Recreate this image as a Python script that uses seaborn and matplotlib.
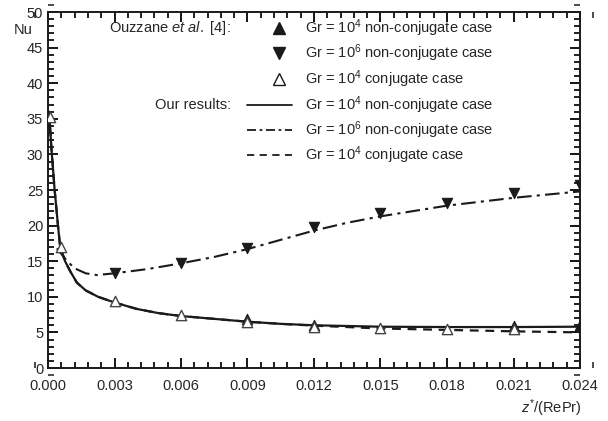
import matplotlib
matplotlib.use("Agg")
import matplotlib.pyplot as plt
import seaborn as sns
from matplotlib.ticker import MultipleLocator, FormatStrFormatter, FixedLocator

# ---- data ----
# reference markers (Ouzzane et al.)
ref_up_filled_x = [0.009, 0.012, 0.021, 0.024]
ref_up_filled_y = [6.9, 6.1, 5.9, 6.0]

ref_down_x = [0.003, 0.006, 0.009, 0.012, 0.015, 0.018, 0.021, 0.024]
ref_down_y = [13.4, 14.7, 16.8, 19.8, 21.7, 23.2, 24.6, 25.7]

ref_open_x = [0.0001, 0.0006, 0.003, 0.006, 0.009, 0.012, 0.015, 0.018, 0.021]
ref_open_y = [35.3, 17.0, 9.4, 7.5, 6.5, 5.8, 5.6, 5.5, 5.5]

# our results curves
solid_x = [0.00005, 0.00015, 0.0003, 0.00045, 0.00055, 0.00077, 0.001, 0.0013, 0.0017,
           0.00226, 0.003, 0.004, 0.005, 0.006, 0.0075, 0.009, 0.0105, 0.012, 0.015,
           0.018, 0.021, 0.024]
solid_y = [36.0, 31.0, 25.0, 20.0, 17.0, 15.0, 13.6, 12.0, 10.9,
           10.0, 9.2, 8.3, 7.7, 7.3, 6.9, 6.5, 6.2, 6.0, 5.8,
           5.75, 5.75, 5.8]

dashdot_x = [0.0004, 0.00084, 0.0012, 0.0017, 0.0022, 0.003, 0.0045, 0.006, 0.0075,
             0.009, 0.0105, 0.012, 0.0135, 0.015, 0.018, 0.021, 0.024]
dashdot_y = [16.8, 15.1, 14.0, 13.3, 13.05, 13.3, 13.9, 14.7, 15.6,
             16.7, 18.0, 19.3, 20.4, 21.3, 22.8, 23.9, 24.8]

dashed_x = [0.00005, 0.00015, 0.0003, 0.00045, 0.00055, 0.00077, 0.001, 0.0013, 0.0017,
            0.00226, 0.003, 0.004, 0.005, 0.006, 0.0075, 0.009, 0.0105, 0.012, 0.015,
            0.018, 0.021, 0.024]
dashed_y = [36.0, 31.0, 25.0, 20.0, 17.0, 15.0, 13.6, 12.0, 10.9,
            10.0, 9.2, 8.3, 7.7, 7.3, 6.9, 6.5, 6.2, 5.95, 5.55,
            5.35, 5.15, 5.0]

x_ticks = [0.000, 0.003, 0.006, 0.009, 0.012, 0.015, 0.018, 0.021, 0.024]
y_ticks = [0, 5, 10, 15, 20, 25, 30, 35, 40, 45, 50]

legend_labels = [r"Gr = 10$^{4}$ non-conjugate case",
                 r"Gr = 10$^{6}$ non-conjugate case",
                 r"Gr = 10$^{4}$ conjugate case",
                 r"Gr = 10$^{4}$ non-conjugate case",
                 r"Gr = 10$^{6}$ non-conjugate case",
                 r"Gr = 10$^{4}$ conjugate case"]

# ---- style ----
sns.set_theme(style="ticks")
plt.rcParams['font.family'] = ['Liberation Sans', 'DejaVu Sans']
plt.rcParams['mathtext.fontset'] = 'custom'
plt.rcParams['mathtext.rm'] = 'Liberation Sans'
plt.rcParams['mathtext.it'] = 'Liberation Sans:italic'

W, H = 608, 421
fig = plt.figure(figsize=(W / 100, H / 100), dpi=100)
L, R, T, B = 48, 580, 12, 368
ax = fig.add_axes([L / W, 1 - B / H, (R - L) / W, (B - T) / H])

k = "k"
sns.lineplot(x=solid_x, y=solid_y, ax=ax, color=k, lw=1.6, linestyle="-", sort=False)
sns.lineplot(x=dashed_x, y=dashed_y, ax=ax, color=k, lw=1.6, linestyle=(0, (4, 3)), sort=False)
sns.lineplot(x=dashdot_x, y=dashdot_y, ax=ax, color=k, lw=1.5, linestyle=(0, (7, 2.5, 1.5, 2.5)), sort=False)

ms = 55
sns.scatterplot(x=ref_up_filled_x, y=ref_up_filled_y, ax=ax, marker="^", s=ms,
                color=k, edgecolor=k, linewidth=0.8, zorder=5)
sns.scatterplot(x=ref_down_x, y=ref_down_y, ax=ax, marker="v", s=ms,
                color=k, edgecolor=k, linewidth=0.8, zorder=5)
sns.scatterplot(x=ref_open_x, y=ref_open_y, ax=ax, marker="^", s=ms,
                color="white", edgecolor="#444444", linewidth=1.0, zorder=6)

ax.set_xlim(0, 0.024)
ax.set_ylim(0, 50)
ax.xaxis.set_major_locator(FixedLocator(x_ticks))
ax.yaxis.set_major_locator(FixedLocator(y_ticks))
ax.xaxis.set_major_formatter(FormatStrFormatter("%.3f"))
ax.xaxis.set_minor_locator(MultipleLocator(0.0006))
ax.yaxis.set_minor_locator(MultipleLocator(1))
ax.tick_params(which="both", direction="in", top=True, right=True, color=k, labelsize=10.5)
ax.tick_params(which="major", length=7, width=1.4)
ax.tick_params(which="minor", length=4, width=1.1)
ax.tick_params(axis="x", which="major", pad=8)
for sp in ax.spines.values():
    sp.set_linewidth(1.4)
    sp.set_color(k)

# explicit inward tick marks at the axis locator positions (as line collections)
axw, axh = (R - L), (B - T)
maj_px, min_px = 7 * 100 / 72, 4 * 100 / 72
xt_maj = list(ax.get_xticks())
xt_min = [v for v in ax.xaxis.get_minorticklocs()]
yt_maj = list(ax.get_yticks())
yt_min = [v for v in ax.yaxis.get_minorticklocs()]
xtr = ax.get_xaxis_transform()
ytr = ax.get_yaxis_transform()
for locs, lpx, lw in [(xt_maj, maj_px, 1.4), (xt_min, min_px, 1.1)]:
    f = lpx / axh
    ax.vlines(locs, 0, f, transform=xtr, colors=k, lw=lw, clip_on=False, zorder=4)
    ax.vlines(locs, 1 - f, 1, transform=xtr, colors=k, lw=lw, clip_on=False, zorder=4)
for locs, lpx, lw in [(yt_maj, maj_px, 1.4), (yt_min, min_px, 1.1)]:
    f = lpx / axw
    ax.hlines(locs, 0, f, transform=ytr, colors=k, lw=lw, clip_on=False, zorder=4)
    ax.hlines(locs, 1 - f, 1, transform=ytr, colors=k, lw=lw, clip_on=False, zorder=4)

# pixel -> axes-fraction helpers for the hand-laid legend
def axx(px):
    return (px - L) / (R - L)

def axy(py):
    return (B - py) / (B - T)

fs = 10.5
ax.text(axx(14), axy(30), "Nu", fontsize=fs, va="center", ha="left", transform=ax.transAxes)
ax.text(axx(582), axy(408), r"$z^{*}$/(RePr)", fontsize=fs, va="center", ha="right",
        transform=ax.transAxes)

rows = [28, 53, 79, 105, 130, 155]
ax.text(axx(231), axy(rows[0]), r"Ouzzane $et\ al.$ [4]:", fontsize=fs, va="center", ha="right",
        transform=ax.transAxes)
ax.text(axx(231), axy(rows[3]), "Our results:", fontsize=fs, va="center", ha="right",
        transform=ax.transAxes)
for r, lab in zip(rows, legend_labels):
    ax.text(axx(305), axy(r), lab, fontsize=fs, va="center", ha="left", transform=ax.transAxes)

mk = axx(279)
ax.plot([mk], [axy(rows[0])], marker="^", markersize=8, color=k, ls="none",
        transform=ax.transAxes, clip_on=False)
ax.plot([mk], [axy(rows[1])], marker="v", markersize=8, color=k, ls="none",
        transform=ax.transAxes, clip_on=False)
ax.plot([mk], [axy(rows[2])], marker="^", markersize=8, markerfacecolor="white",
        markeredgecolor=k, ls="none", transform=ax.transAxes, clip_on=False)
ax.plot([axx(247), axx(292)], [axy(rows[3])] * 2, color=k, lw=1.3, transform=ax.transAxes)
ax.plot([axx(247), axx(292)], [axy(rows[4])] * 2, color=k, lw=1.3,
        linestyle=(0, (5, 2, 1.5, 2)), transform=ax.transAxes)
ax.plot([axx(247), axx(292)], [axy(rows[5])] * 2, color=k, lw=1.3,
        linestyle=(0, (4, 3)), transform=ax.transAxes)

ax.set_xlim(0, 0.024)
ax.set_ylim(0, 50)
fig.savefig("out.png", dpi=100)
